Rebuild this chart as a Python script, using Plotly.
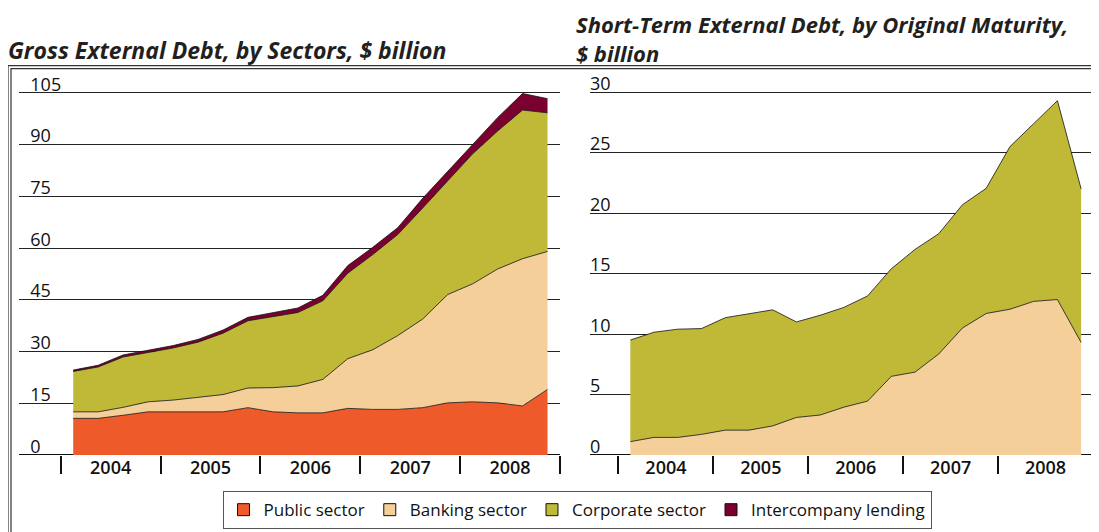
import plotly.graph_objects as go

# ---------------- data ----------------
years = [2004, 2005, 2006, 2007, 2008]
quarters = [f"{y} Q{q}" for y in years for q in (1, 2, 3, 4)]

# Gross external debt by sectors ($ billion), quarterly
public_sector = [10.6, 10.6, 11.5, 12.5, 12.5, 12.5, 12.5, 13.7, 12.5, 12.2,
                 12.2, 13.5, 13.2, 13.2, 13.7, 15.1, 15.4, 15.1, 14.2, 19.0]
banking_sector = [1.9, 1.9, 2.3, 2.9, 3.4, 4.3, 5.0, 5.7, 7.0, 7.8,
                  9.7, 14.4, 17.3, 21.4, 25.7, 31.4, 34.2, 38.8, 42.7, 40.0]
corporate_sector = [11.7, 13.0, 14.6, 14.4, 15.1, 15.9, 17.8, 19.5, 20.7, 21.3,
                    22.8, 24.8, 27.6, 29.3, 32.2, 32.8, 37.7, 40.0, 43.1, 40.2]
intercompany = [0.4, 0.5, 0.6, 0.6, 0.7, 0.8, 0.9, 1.0, 1.1, 1.3,
                1.6, 2.2, 2.1, 2.0, 2.8, 2.9, 3.0, 3.9, 4.8, 4.1]

# Short-term external debt by original maturity ($ billion), quarterly
st_banking = [1.1, 1.45, 1.45, 1.7, 2.05, 2.05, 2.4, 3.1, 3.3, 3.95,
              4.45, 6.5, 6.85, 8.35, 10.5, 11.7, 12.05, 12.7, 12.85, 9.3]
st_corporate = [8.4, 8.7, 8.95, 8.75, 9.3, 9.65, 9.6, 7.9, 8.25, 8.25,
                8.7, 8.9, 10.15, 9.95, 10.2, 10.35, 13.45, 14.7, 16.45, 12.7]

left_ticks = [0, 15, 30, 45, 60, 75, 90, 105]
right_ticks = [0, 5, 10, 15, 20, 25, 30]

series_names = ["Public sector", "Banking sector", "Corporate sector", "Intercompany lending"]
colors = ["#EF5A2B", "#F4CF99", "#BFB937", "#7A0030"]

# quarter positions on a continuous year axis (mid-quarter)
xq = [int(q[:4]) + (int(q[-1]) - 0.5) / 4 for q in quarters]

# the page body adds an 8px offset, so the figure is placed at (8, 8) on screen
OFF = 8
W, H = 1091, 524
def px(x):
    return (x - OFF) / W
def py(y):
    return (H - (y - OFF)) / H

TXT = "#231F20"
FONT = "Open Sans"

fig = go.Figure()

left_vals = [public_sector, banking_sector, corporate_sector, intercompany]
for name, vals, col in zip(series_names, left_vals, colors):
    fig.add_trace(go.Scatter(
        x=xq, y=vals, name=name, mode="lines", stackgroup="left",
        line=dict(color="#111111", width=0.8), fillcolor=col,
        xaxis="x", yaxis="y", showlegend=False))

for name, vals, col in zip(series_names[1:3], [st_banking, st_corporate], colors[1:3]):
    fig.add_trace(go.Scatter(
        x=xq, y=vals, name=name, mode="lines", stackgroup="right",
        line=dict(color="#111111", width=0.8), fillcolor=col,
        xaxis="x2", yaxis="y2", showlegend=False))

# legend entries (square swatches)
for name, col in zip(series_names, colors):
    fig.add_trace(go.Bar(x=[None], y=[None], name=name,
                         marker=dict(color=col, line=dict(color="#111111", width=1)),
                         xaxis="x", yaxis="y", showlegend=True))

def xaxis_cfg(domain, rng, anchor):
    return dict(
        domain=domain, range=rng, showgrid=False, zeroline=False,
        showline=False, anchor=anchor,
        tickvals=[y + 0.5 for y in years], ticktext=[str(y) for y in years],
        ticks="", tickfont=dict(family=FONT, size=18, color="#111111", weight=600),
        minor=dict(tickvals=[2004, 2005, 2006, 2007, 2008, 2009], ticks="outside",
                   ticklen=18, tickwidth=1.5, tickcolor="#111111", showgrid=False),
        fixedrange=True)

def yaxis_cfg(rng, ticks, top_px, anchor, standoff):
    return dict(
        domain=[py(457.5), py(top_px)], range=rng, anchor=anchor,
        tickvals=ticks, ticktext=[str(t) for t in ticks],
        showgrid=True, gridcolor="#222222", gridwidth=1,
        zeroline=True, zerolinecolor="#111111", zerolinewidth=1.2,
        showline=False, ticks="", ticklabelposition="inside top",
        ticklabeloverflow="allow",
        ticklabelstandoff=standoff, ticklabelshift=4,
        tickfont=dict(family=FONT, size=18, color="#111111"),
        fixedrange=True)

# left: 0 at y=457.5, 3.4686 px/unit -> 115 at ~58.6 ; right: 12.16 px/unit -> 33 at ~56.2
fig.update_layout(
    width=W, height=H,
    margin=dict(l=0, r=0, t=0, b=0),
    paper_bgcolor="white", plot_bgcolor="rgba(0,0,0,0)",
    xaxis=xaxis_cfg([px(19.3), px(560)], [2003.585, 2009.0], "y"),
    xaxis2=xaxis_cfg([px(590), px(1093)], [2003.70, 2009.0], "y2"),
    yaxis=yaxis_cfg([0, 115], left_ticks, 58.6, "x", 8),
    yaxis2=yaxis_cfg([0, 33], right_ticks, 56.2, "x2", -3),
    showlegend=True,
    legend=dict(orientation="h", x=px(577), y=py(513), xanchor="center", yanchor="middle",
                traceorder="normal", bordercolor="#555555", borderwidth=1,
                font=dict(family=FONT, size=17, color="#111111"),
                itemwidth=30, bgcolor="white"),
    font=dict(family=FONT, color=TXT),
)

# titles
fig.add_annotation(text="<b><i>Gross External Debt, by Sectors, $ billion</i></b>",
                   xref="paper", yref="paper", x=px(6), y=py(50), xanchor="left", yanchor="middle",
                   showarrow=False, font=dict(family=FONT, size=23, color=TXT))
fig.add_annotation(text="<b><i>Short-Term External Debt, by Original Maturity,<br>$ billion</i></b>",
                   xref="paper", yref="paper", x=px(574), y=py(39), xanchor="left", yanchor="middle",
                   align="left", showarrow=False, font=dict(family=FONT, size=22, color=TXT))

# double frame
for off in (0, 3):
    fig.add_shape(type="rect", xref="paper", yref="paper",
                  x0=px(8 + off), x1=px(1115), y0=py(560), y1=py(66 + off),
                  line=dict(color="#333333", width=1.2), fillcolor="rgba(0,0,0,0)",
                  layer="below")

fig.write_html("out.html")
